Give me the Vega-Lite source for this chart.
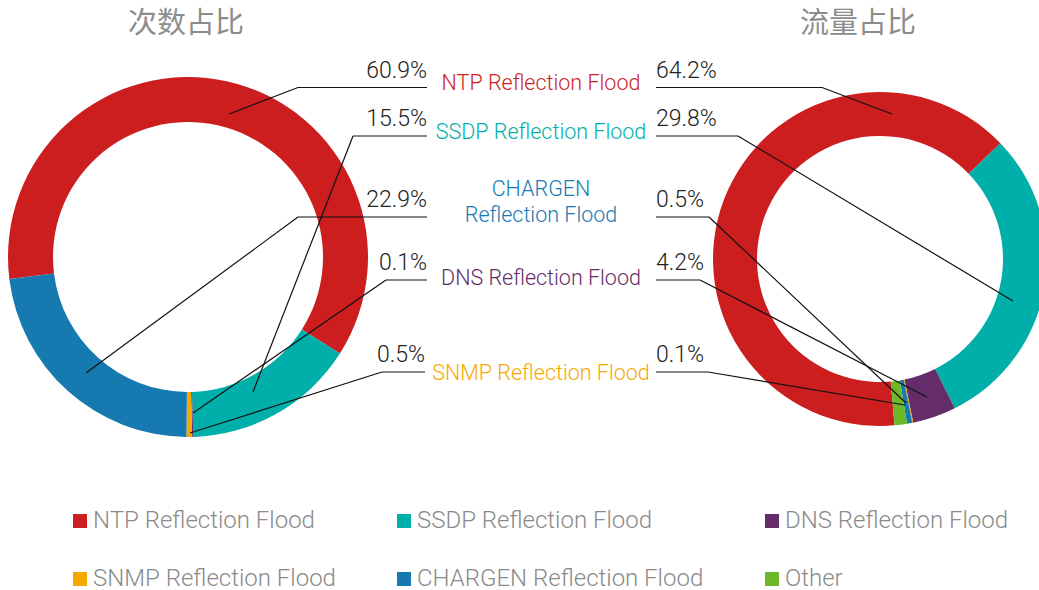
{
  "$schema": "https://vega.github.io/schema/vega-lite/v6.json",
  "width": 1039,
  "height": 590,
  "autosize": {"type": "fit", "contains": "padding"},
  "padding": 0,
  "background": "#ffffff",
  "config": {"view": {"stroke": null}, "font": "Roboto"},
  "datasets": {
    "count": [
      {"cat": "NTP Reflection Flood", "pct": 60.9, "rank": 1},
      {"cat": "SSDP Reflection Flood", "pct": 15.5, "rank": 2},
      {"cat": "DNS Reflection Flood", "pct": 0.1, "rank": 3},
      {"cat": "SNMP Reflection Flood", "pct": 0.5, "rank": 4},
      {"cat": "CHARGEN Reflection Flood", "pct": 22.9, "rank": 5}
    ],
    "traffic": [
      {"cat": "NTP Reflection Flood", "pct": 64.2, "rank": 1},
      {"cat": "SSDP Reflection Flood", "pct": 29.8, "rank": 2},
      {"cat": "DNS Reflection Flood", "pct": 4.2, "rank": 3},
      {"cat": "SNMP Reflection Flood", "pct": 0.1, "rank": 4},
      {"cat": "CHARGEN Reflection Flood", "pct": 0.5, "rank": 5},
      {"cat": "Other", "pct": 1.2, "rank": 6}
    ],
    "leaders": [
      {"chart": "次数占比", "cat": "NTP Reflection Flood", "xa": 427, "ya": 87.5, "xb": 298, "yb": 87.5, "xc": 229, "yc": 114},
      {"chart": "次数占比", "cat": "SSDP Reflection Flood", "xa": 427, "ya": 136, "xb": 353, "yb": 136, "xc": 253, "yc": 392},
      {"chart": "次数占比", "cat": "CHARGEN Reflection Flood", "xa": 427, "ya": 217, "xb": 298, "yb": 217, "xc": 86, "yc": 373},
      {"chart": "次数占比", "cat": "DNS Reflection Flood", "xa": 427, "ya": 280, "xb": 386, "yb": 280, "xc": 193, "yc": 413},
      {"chart": "次数占比", "cat": "SNMP Reflection Flood", "xa": 425, "ya": 372, "xb": 382, "yb": 372, "xc": 190, "yc": 433},
      {"chart": "流量占比", "cat": "NTP Reflection Flood", "xa": 656, "ya": 87.5, "xb": 822, "yb": 87.5, "xc": 892, "yc": 114},
      {"chart": "流量占比", "cat": "SSDP Reflection Flood", "xa": 656, "ya": 136, "xb": 738, "yb": 136, "xc": 1013, "yc": 301},
      {"chart": "流量占比", "cat": "CHARGEN Reflection Flood", "xa": 656, "ya": 217, "xb": 709, "yb": 217, "xc": 906, "yc": 403},
      {"chart": "流量占比", "cat": "DNS Reflection Flood", "xa": 656, "ya": 280, "xb": 700, "yb": 280, "xc": 927, "yc": 397},
      {"chart": "流量占比", "cat": "SNMP Reflection Flood", "xa": 656, "ya": 372, "xb": 708, "yb": 372, "xc": 905, "yc": 405}
    ],
    "names": [
      {"cat": "NTP Reflection Flood", "name": "NTP Reflection Flood", "y": 89.5},
      {"cat": "SSDP Reflection Flood", "name": "SSDP Reflection Flood", "y": 139},
      {"cat": "CHARGEN Reflection Flood", "name": "CHARGEN\nReflection Flood", "y": 196},
      {"cat": "DNS Reflection Flood", "name": "DNS Reflection Flood", "y": 285},
      {"cat": "SNMP Reflection Flood", "name": "SNMP Reflection Flood", "y": 379.5}
    ],
    "panels": [
      {"chart": "次数占比", "tx": 186},
      {"chart": "流量占比", "tx": 858}
    ]
  },
  "layer": [
    {
      "data": {"name": "count"},
      "mark": {"type": "arc", "radius": 180, "radius2": 135, "clip": true},
      "encoding": {
        "x": {"datum": 188, "type": "quantitative", "scale": {"domain": [0, 1039], "nice": false, "zero": false}, "axis": null},
        "y": {"datum": 257, "type": "quantitative", "scale": {"domain": [0, 590], "nice": false, "zero": false, "reverse": true}, "axis": null},
        "theta": {"field": "pct", "type": "quantitative", "stack": true, "scale": {"range": [4.5902, 10.8734]}},
        "order": {"field": "rank", "type": "quantitative"},
        "color": {
          "field": "cat",
          "type": "nominal",
          "scale": {
            "domain": ["NTP Reflection Flood", "SSDP Reflection Flood", "DNS Reflection Flood", "SNMP Reflection Flood", "CHARGEN Reflection Flood", "Other"],
            "range": ["#cc1e1f", "#00afaa", "#642d69", "#f7a800", "#167ab1", "#6cb829"]
          },
          "legend": {
            "title": null,
            "orient": "none",
            "direction": "horizontal",
            "legendX": 68,
            "legendY": 509,
            "columns": 3,
            "padding": 0,
            "symbolType": "square",
            "symbolSize": 196,
            "symbolStrokeWidth": 0,
            "symbolOpacity": 1,
            "labelFont": "Roboto",
            "labelFontSize": 24,
            "labelFontWeight": 300,
            "labelColor": "#8a8a8a",
            "labelOffset": 1,
            "labelLimit": 400,
            "columnPadding": 56,
            "rowPadding": 34
          }
        }
      }
    },
    {
      "data": {"name": "traffic"},
      "mark": {"type": "arc", "radius": 167, "radius2": 123, "clip": true},
      "encoding": {
        "x": {"datum": 880, "type": "quantitative", "scale": {"domain": [0, 1039], "nice": false, "zero": false}, "axis": null},
        "y": {"datum": 259, "type": "quantitative", "scale": {"domain": [0, 590], "nice": false, "zero": false, "reverse": true}, "axis": null},
        "theta": {"field": "pct", "type": "quantitative", "stack": true, "scale": {"range": [3.0543, 9.3375]}},
        "order": {"field": "rank", "type": "quantitative"},
        "color": {"field": "cat", "type": "nominal"}
      }
    },
    {
      "data": {"name": "leaders"},
      "mark": {"type": "rule", "stroke": "#111111", "strokeWidth": 1.2},
      "encoding": {
        "x": {"field": "xa", "type": "quantitative", "scale": {"domain": [0, 1039], "nice": false, "zero": false}, "axis": null},
        "y": {"field": "ya", "type": "quantitative", "scale": {"domain": [0, 590], "nice": false, "zero": false, "reverse": true}, "axis": null},
        "x2": {"field": "xb"},
        "y2": {"field": "yb"}
      }
    },
    {
      "data": {"name": "leaders"},
      "mark": {"type": "rule", "stroke": "#111111", "strokeWidth": 1.2},
      "encoding": {
        "x": {"field": "xb", "type": "quantitative", "scale": {"domain": [0, 1039], "nice": false, "zero": false}, "axis": null},
        "y": {"field": "yb", "type": "quantitative", "scale": {"domain": [0, 590], "nice": false, "zero": false, "reverse": true}, "axis": null},
        "x2": {"field": "xc"},
        "y2": {"field": "yc"}
      }
    },
    {
      "data": {"name": "leaders"},
      "transform": [
        {"filter": "datum.chart === '次数占比'"},
        {"lookup": "cat", "from": {"data": {"name": "count"}, "key": "cat", "fields": ["pct"]}},
        {"calculate": "format(datum.pct, '.1f') + '%'", "as": "pctLabel"}
      ],
      "mark": {"type": "text", "align": "right", "baseline": "alphabetic", "dy": -10, "font": "Roboto", "fontSize": 23, "fontWeight": 300, "color": "#222222"},
      "encoding": {
        "x": {"field": "xa", "type": "quantitative", "scale": {"domain": [0, 1039], "nice": false, "zero": false}, "axis": null},
        "y": {"field": "ya", "type": "quantitative", "scale": {"domain": [0, 590], "nice": false, "zero": false, "reverse": true}, "axis": null},
        "text": {"field": "pctLabel"}
      }
    },
    {
      "data": {"name": "leaders"},
      "transform": [
        {"filter": "datum.chart === '流量占比'"},
        {"lookup": "cat", "from": {"data": {"name": "traffic"}, "key": "cat", "fields": ["pct"]}},
        {"calculate": "format(datum.pct, '.1f') + '%'", "as": "pctLabel"}
      ],
      "mark": {"type": "text", "align": "left", "baseline": "alphabetic", "dy": -10, "font": "Roboto", "fontSize": 23, "fontWeight": 300, "color": "#222222"},
      "encoding": {
        "x": {"field": "xa", "type": "quantitative", "scale": {"domain": [0, 1039], "nice": false, "zero": false}, "axis": null},
        "y": {"field": "ya", "type": "quantitative", "scale": {"domain": [0, 590], "nice": false, "zero": false, "reverse": true}, "axis": null},
        "text": {"field": "pctLabel"}
      }
    },
    {
      "data": {"name": "names"},
      "mark": {"type": "text", "align": "center", "baseline": "alphabetic", "font": "Roboto", "fontSize": 21.5, "fontWeight": 300, "lineBreak": "\n", "lineHeight": 25.7},
      "encoding": {
        "x": {"datum": 541, "type": "quantitative", "scale": {"domain": [0, 1039], "nice": false, "zero": false}, "axis": null},
        "y": {"field": "y", "type": "quantitative", "scale": {"domain": [0, 590], "nice": false, "zero": false, "reverse": true}, "axis": null},
        "text": {"field": "name"},
        "color": {"field": "cat", "type": "nominal", "legend": null}
      }
    },
    {
      "data": {"name": "panels"},
      "mark": {"type": "text", "align": "center", "baseline": "alphabetic", "font": "Noto Sans CJK SC", "fontSize": 29, "color": "#8c8c8c"},
      "encoding": {
        "x": {"field": "tx", "type": "quantitative", "scale": {"domain": [0, 1039], "nice": false, "zero": false}, "axis": null},
        "y": {"datum": 33, "type": "quantitative", "scale": {"domain": [0, 590], "nice": false, "zero": false, "reverse": true}, "axis": null},
        "text": {"field": "chart"}
      }
    }
  ],
  "resolve": {"scale": {"theta": "independent"}}
}
